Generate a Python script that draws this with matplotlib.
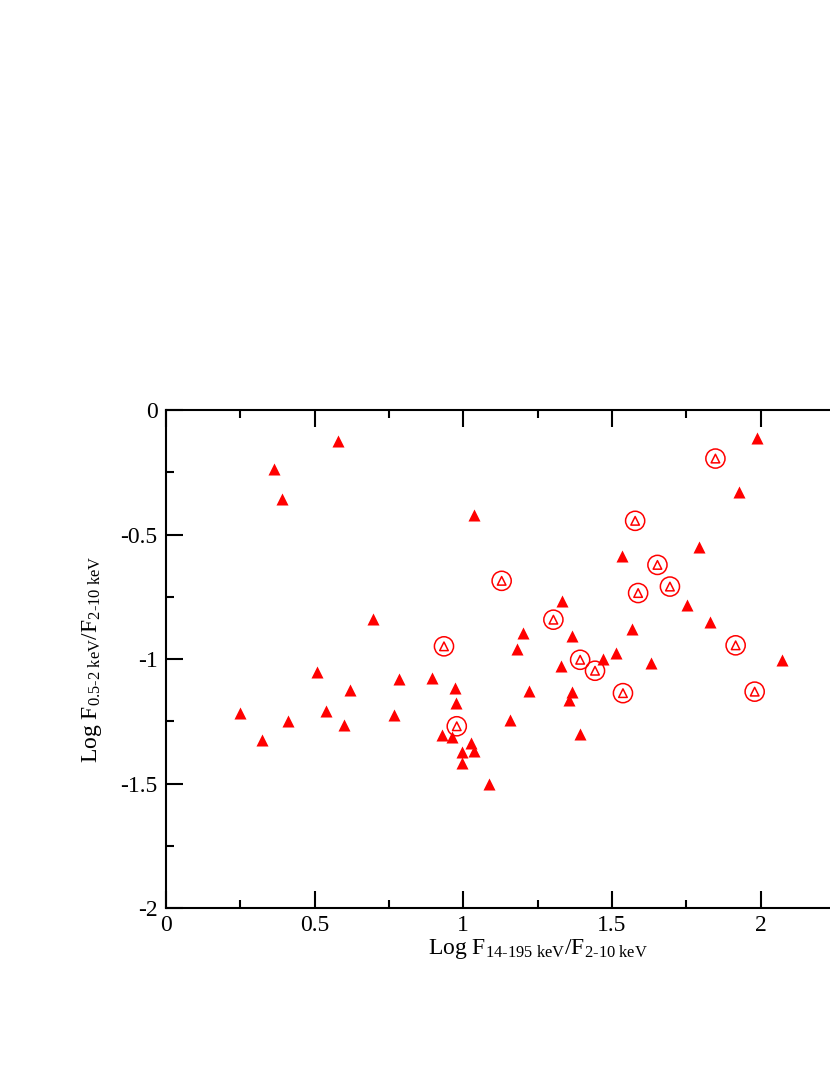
import matplotlib
matplotlib.use("Agg")
import matplotlib.pyplot as plt
from matplotlib.ticker import MultipleLocator, FuncFormatter

plt.rcParams['font.family'] = ['Liberation Serif']
plt.rcParams['mathtext.fontset'] = 'custom'
plt.rcParams['mathtext.rm'] = 'Liberation Serif'
plt.rcParams['mathtext.it'] = 'Liberation Serif'
plt.rcParams['axes.unicode_minus'] = False

# Filled triangles
tri_x = [0.579, 0.364, 0.391, 1.035, 0.697, 1.989, 1.928, 1.793, 1.533, 1.331,
         1.752, 1.829, 1.200, 1.366, 1.569, 1.181, 1.471, 1.515, 1.328, 1.632,
         2.072, 1.220, 1.367, 1.356, 1.158, 1.391, 0.508, 0.785, 0.895, 0.619,
         0.973, 0.975, 0.249, 0.539, 0.767, 0.411, 0.600, 0.323, 0.929, 0.962,
         1.027, 1.035, 0.997, 0.997, 1.086]
tri_y = [-0.123, -0.238, -0.356, -0.421, -0.838, -0.111, -0.329, -0.551, -0.588, -0.766,
         -0.785, -0.852, -0.896, -0.907, -0.880, -0.960, -0.998, -0.977, -1.027, -1.014,
         -1.003, -1.127, -1.131, -1.165, -1.245, -1.302, -1.051, -1.079, -1.076, -1.126,
         -1.115, -1.177, -1.217, -1.210, -1.223, -1.250, -1.263, -1.326, -1.306, -1.314,
         -1.337, -1.368, -1.374, -1.417, -1.500]

# Circled open triangles
circ_x = [0.935, 0.978, 1.129, 1.303, 1.393, 1.443, 1.537, 1.578, 1.588, 1.653,
          1.695, 1.848, 1.916, 1.980]
circ_y = [-0.949, -1.270, -0.686, -0.842, -1.003, -1.047, -1.137, -0.445, -0.735, -0.622,
          -0.709, -0.195, -0.945, -1.131]

fig = plt.figure(figsize=(8.3, 10.75), dpi=100)
ax = fig.add_axes([0.2, 0.1553, 0.8955, 0.4633])

ax.scatter(tri_x, tri_y, marker='^', s=75, color='red', linewidths=0, zorder=3)
ax.scatter(circ_x, circ_y, marker='o', s=190, facecolors='none', edgecolors='red',
           linewidths=1.1, zorder=3)
ax.scatter(circ_x, circ_y, marker='^', s=38, facecolors='none', edgecolors='red',
           linewidths=1.1, zorder=3)

ax.set_xlim(0, 2.5)
ax.set_ylim(-2, 0)
ax.xaxis.set_major_locator(MultipleLocator(0.5))
ax.xaxis.set_minor_locator(MultipleLocator(0.25))
ax.yaxis.set_major_locator(MultipleLocator(0.5))
ax.yaxis.set_minor_locator(MultipleLocator(0.25))
ax.xaxis.set_major_formatter(FuncFormatter(lambda v, p: f'{v:g}' if v < 2.2 else ''))
ax.yaxis.set_major_formatter(FuncFormatter(lambda v, p: f'{v:g}'))
ax.tick_params(which='both', direction='in', top=True, right=True, width=1.5,
               labelsize=17, colors='black')
ax.tick_params(which='major', length=12)
ax.tick_params(which='minor', length=6)
ax.tick_params(axis='x', pad=5)
ax.tick_params(axis='y', pad=6)
for s in ax.spines.values():
    s.set_linewidth(1.5)

ax.set_xlabel(r'Log F$_{\text{14-195 keV}}$/F$_{\text{2-10 keV}}$', fontsize=17, labelpad=1)
ax.set_ylabel(r'Log F$_{\text{0.5-2 keV}}$/F$_{\text{2-10 keV}}$', fontsize=17, labelpad=12)

fig.savefig('out.png', dpi=100)
